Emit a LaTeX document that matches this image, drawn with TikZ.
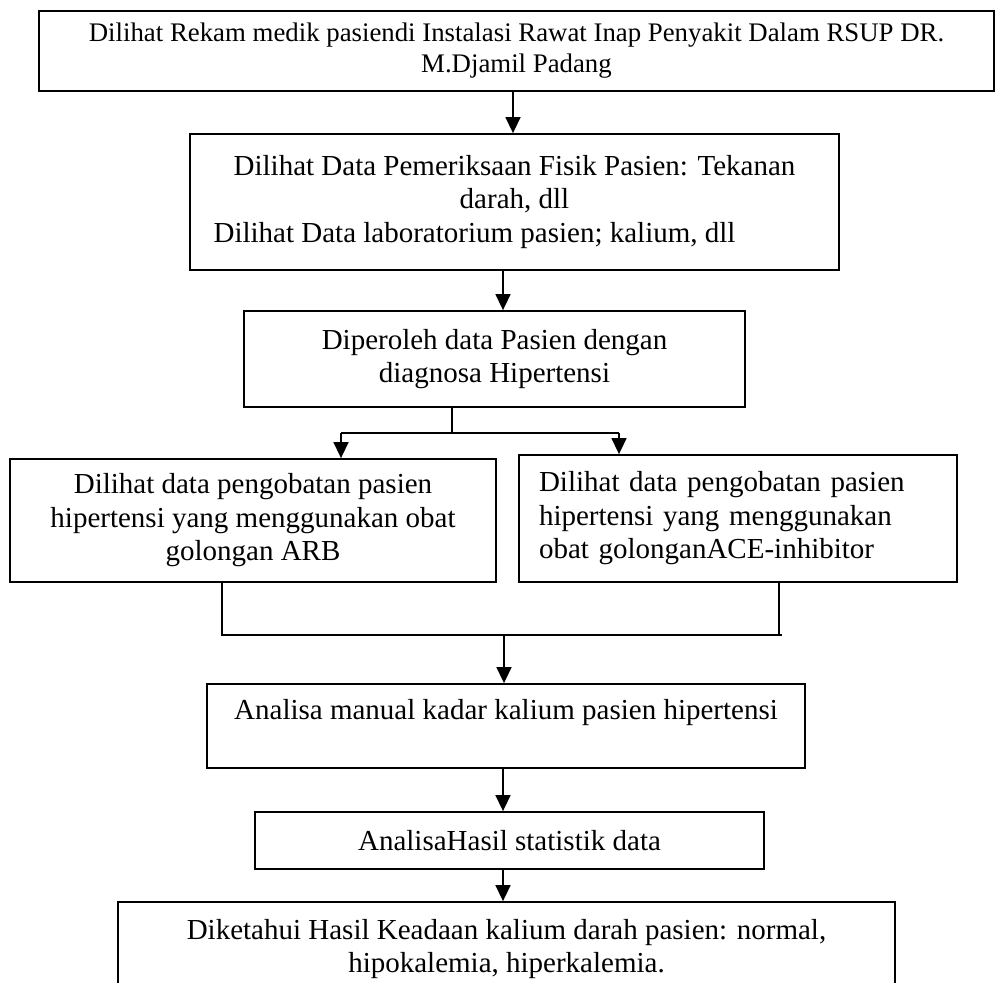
\documentclass[tikz,border=0pt]{standalone}
\usepackage{fontspec}
\setmainfont{Liberation Serif}
\usetikzlibrary{arrows.meta}
\begin{document}
\begin{tikzpicture}[x=1pt,y=-1pt,
  box/.style={draw, line width=1.8pt, rectangle, inner sep=0pt, align=center,
              font=\fontsize{29}{33.5}\selectfont},
  arr/.style={line width=1.5pt, -{Triangle[length=16pt,width=15pt]}},
  ln/.style={line width=1.5pt}]
\useasboundingbox (0,0) rectangle (995,982);
\fill[white] (0,0) rectangle (995,982);

\node[box, minimum width=955, minimum height=80, font=\fontsize{26.8}{31}\selectfont] (b1) at (516.5,51)
  {Dilihat Rekam medik pasiendi Instalasi Rawat Inap Penyakit Dalam RSUP DR.\\M.Djamil Padang};
\node[box, minimum width=649, minimum height=136] (b2) at (514.5,202)
  {Dilihat Data Pemeriksaan Fisik Pasien: Tekanan\\darah, dll\\\hspace*{-80pt}Dilihat Data laboratorium pasien; kalium, dll};
\node[box, minimum width=501, minimum height=96] (b3) at (494.5,359)
  {Diperoleh data Pasien dengan\\diagnosa Hipertensi};
\node[box, minimum width=486, minimum height=123] (b4l) at (253,520.5)
  {Dilihat data pengobatan pasien\\hipertensi yang menggunakan obat\\golongan ARB};
\node[box, minimum width=438, minimum height=127, align=left, text width=398, inner xsep=20pt] (b4r) at (738,518.5)
  {Dilihat data pengobatan pasien\\hipertensi yang menggunakan\\obat golonganACE-inhibitor};
\node[box, minimum width=598, minimum height=84] (b5) at (506,726)
  {Analisa manual kadar kalium pasien hipertensi\\\mbox{}};
\node[box, minimum width=509, minimum height=57] (b6) at (509.5,840.5)
  {AnalisaHasil statistik data};
\node[box, minimum width=777, minimum height=94] (b7) at (506.5,949)
  {Diketahui Hasil Keadaan kalium darah pasien: normal,\\hipokalemia, hiperkalemia.};

\coordinate (c513) at (513,0);
\coordinate (c503) at (503,0);
\coordinate (c452) at (452,0);
\coordinate (c341) at (341,0);
\coordinate (c619) at (619,0);
\coordinate (c222) at (222,0);
\coordinate (c779) at (779,0);
\coordinate (c504) at (504,0);
\coordinate (s1) at (452,433);
\coordinate (m1) at (222,635);
\coordinate (m2) at (782,635);

\draw[arr] (c513 |- b1.south) -- (c513 |- b2.north);
\draw[arr] (c503 |- b2.south) -- (c503 |- b3.north);
\draw[ln] (c452 |- b3.south) -- (s1);
\draw[ln] (c341 |- s1) -- (c619 |- s1);
\draw[arr] (c341 |- s1) -- (c341 |- b4l.north);
\draw[arr] (c619 |- s1) -- (c619 |- b4r.north);
\draw[ln] (c222 |- b4l.south) -- (m1) -- (m2);
\draw[ln] (c779 |- b4r.south) -- (c779 |- m1);
\draw[arr] (c504 |- m1) -- (c504 |- b5.north);
\draw[arr] (c503 |- b5.south) -- (c503 |- b6.north);
\draw[arr] (c503 |- b6.south) -- (c503 |- b7.north);
\end{tikzpicture}
\end{document}
